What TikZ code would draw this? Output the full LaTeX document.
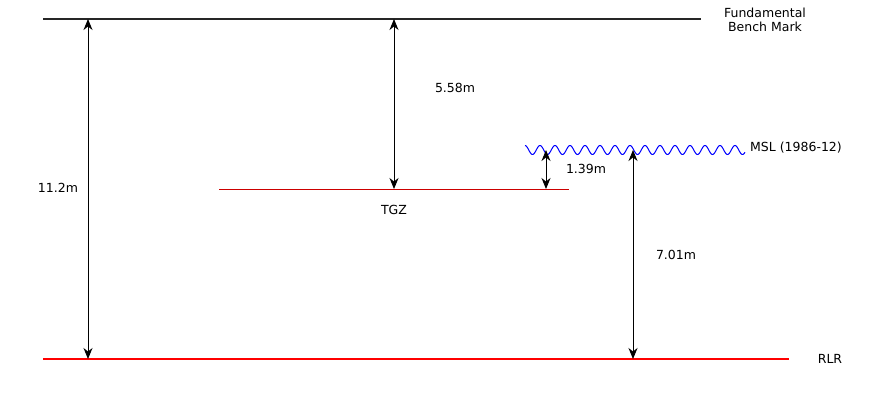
\documentclass[tikz,border=0pt]{standalone}
\usepackage{fontspec}
\setmainfont{DejaVu Sans}
\usetikzlibrary{arrows.meta}
\definecolor{tgzred}{HTML}{CC0000}
\begin{document}
\begin{tikzpicture}[x=1pt,y=-1pt,
  lbl/.style={font=\fontsize{12.5}{14.5}\selectfont, inner sep=0pt, align=center},
  dim/.style={line width=1pt, {Stealth[length=11pt,width=9pt,inset=3.5pt]}-{Stealth[length=11pt,width=9pt,inset=3.5pt]}}]
\useasboundingbox (0,0) rectangle (875,400);
% levels
\coordinate (fbL) at (43,19);
\coordinate (fbR) at (701,19);
\coordinate (rlrL) at (43,359);
\coordinate (rlrR) at (789,359);
\coordinate (tgzL) at (219,189);
\coordinate (tgzR) at (569,189);
\draw[line width=2pt, black!85] (fbL) -- (fbR);
\draw[line width=2pt, red] (rlrL) -- (rlrR);
\draw[line width=1pt, tgzred] (tgzL) -- (tgzR);
\draw[blue, line width=1pt] plot[domain=525:745, samples=400, smooth] (\x, {150 - 4.5*cos((\x-540)/15*360)});
% dimension endpoints
\coordinate (a1) at (88,19);  \coordinate (a2) at (88,359);
\coordinate (b1) at (394,19); \coordinate (b2) at (394,189);
\coordinate (c1) at (546,150); \coordinate (c2) at (546,189);
\coordinate (d1) at (633,150); \coordinate (d2) at (633,359);
\draw[dim] (a1) -- (a2);
\draw[dim] (b1) -- (b2);
\draw[dim] (c1) -- (c2);
\draw[dim] (d1) -- (d2);
% labels
\node[lbl] (l11) at (58,188) {11.2m};
\node[lbl] (l558) at (455,88) {5.58m};
\node[lbl] (l139) at (586,169) {1.39m};
\node[lbl] (l701) at (676,255) {7.01m};
\node[lbl] (tgz) at (394,210) {TGZ};
\node[lbl, align=center] (fbm) at (765,20) {Fundamental\\Bench Mark};
\node[lbl, anchor=west] (msl) at (750,148) {MSL (1986-12)};
\node[lbl] (rlr) at (830,359) {RLR};
\end{tikzpicture}
\end{document}
